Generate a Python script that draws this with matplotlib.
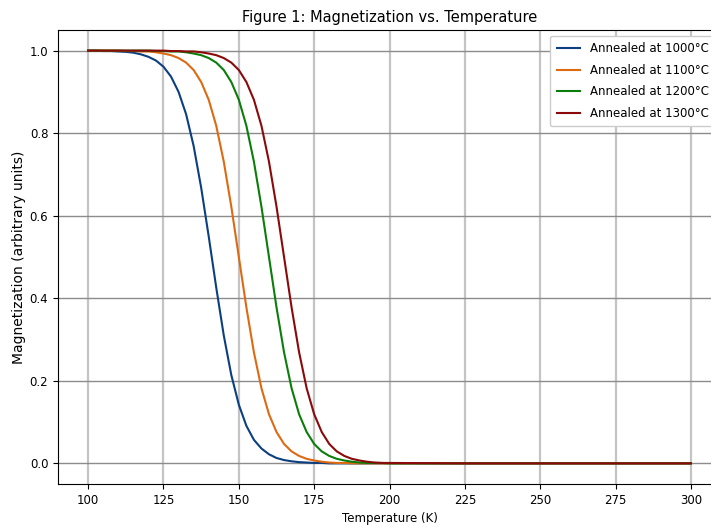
import matplotlib
matplotlib.use("Agg")
import matplotlib.pyplot as plt

temperature = [100, 102.5, 105, 107.5, 110, 112.5, 115, 117.5, 120, 122.5,
               125, 127.5, 130, 132.5, 135, 137.5, 140, 142.5, 145, 147.5,
               150, 152.5, 155, 157.5, 160, 162.5, 165, 167.5, 170, 172.5,
               175, 177.5, 180, 182.5, 185, 187.5, 190, 192.5, 195, 197.5,
               200, 225, 250, 275, 300]

m_1000 = [1.000, 1.000, 0.999, 0.999, 0.998, 0.997, 0.995, 0.991, 0.985, 0.976,
          0.961, 0.937, 0.900, 0.846, 0.769, 0.668, 0.550, 0.426, 0.310, 0.214,
          0.142, 0.091, 0.057, 0.036, 0.022, 0.013, 0.008, 0.005, 0.003, 0.002,
          0.001, 0.001, 0.000, 0.000, 0.000, 0.000, 0.000, 0.000, 0.000, 0.000,
          0.000, 0.000, 0.000, 0.000, 0.000]

m_1100 = [1.000, 1.000, 1.000, 1.000, 1.000, 0.999, 0.999, 0.998, 0.998, 0.996,
          0.993, 0.989, 0.982, 0.971, 0.953, 0.924, 0.881, 0.818, 0.731, 0.622,
          0.500, 0.378, 0.269, 0.182, 0.119, 0.076, 0.047, 0.029, 0.018, 0.011,
          0.007, 0.004, 0.002, 0.001, 0.001, 0.000, 0.000, 0.000, 0.000, 0.000,
          0.000, 0.000, 0.000, 0.000, 0.000]

m_1200 = [1.000, 1.000, 1.000, 1.000, 1.000, 1.000, 1.000, 1.000, 1.000, 0.999,
          0.999, 0.998, 0.998, 0.996, 0.993, 0.989, 0.982, 0.971, 0.953, 0.924,
          0.881, 0.818, 0.731, 0.622, 0.500, 0.378, 0.269, 0.182, 0.119, 0.076,
          0.047, 0.029, 0.018, 0.011, 0.007, 0.004, 0.002, 0.001, 0.001, 0.001,
          0.000, 0.000, 0.000, 0.000, 0.000]

m_1300 = [1.000, 1.000, 1.000, 1.000, 1.000, 1.000, 1.000, 1.000, 1.000, 1.000,
          1.000, 0.999, 0.999, 0.998, 0.998, 0.996, 0.993, 0.989, 0.982, 0.971,
          0.953, 0.924, 0.881, 0.818, 0.731, 0.622, 0.500, 0.378, 0.269, 0.182,
          0.119, 0.076, 0.047, 0.029, 0.018, 0.011, 0.007, 0.004, 0.002, 0.001,
          0.001, 0.000, 0.000, 0.000, 0.000]

series_labels = ["Annealed at 1000°C", "Annealed at 1100°C",
                 "Annealed at 1200°C", "Annealed at 1300°C"]
series_colors = ["#0b3f80", "#dd6a12", "#0a7d0a", "#8a0a0a"]

x_ticks = [100, 125, 150, 175, 200, 225, 250, 275, 300]
y_ticks = [0.0, 0.2, 0.4, 0.6, 0.8, 1.0]

plt.rcParams["font.family"] = ["DejaVu Sans"]

fig = plt.figure(figsize=(7.11, 5.27), dpi=100)
ax = fig.add_axes([0.0816, 0.0816, 0.9325, 0.8615])

for vals, lab, col in zip([m_1000, m_1100, m_1200, m_1300], series_labels, series_colors):
    ax.plot(temperature, vals, color=col, lw=1.5, label=lab)

ax.set_xlim(90, 310)
ax.set_ylim(-0.05, 1.05)
ax.set_xticks(x_ticks)
ax.set_yticks(y_ticks)
ax.set_xticklabels([str(t) for t in x_ticks], fontsize=8.5)
ax.set_yticklabels([f"{t:.1f}" for t in y_ticks], fontsize=8.5)

ax.xaxis.grid(True, color="#c4c4c4", lw=1.6)
ax.yaxis.grid(True, color="#8c8c8c", lw=1.0)
ax.set_axisbelow(True)

ax.set_title("Figure 1: Magnetization vs. Temperature", fontsize=10.5, pad=6)
ax.set_xlabel("Temperature (K)", fontsize=8.5, labelpad=4)
ax.set_ylabel("Magnetization (arbitrary units)", fontsize=10, labelpad=3)

ax.legend(loc="upper right", fontsize=8.5, framealpha=1.0, borderaxespad=0.5,
          labelspacing=0.72, borderpad=0.55)

fig.savefig("out.png", dpi=100)
